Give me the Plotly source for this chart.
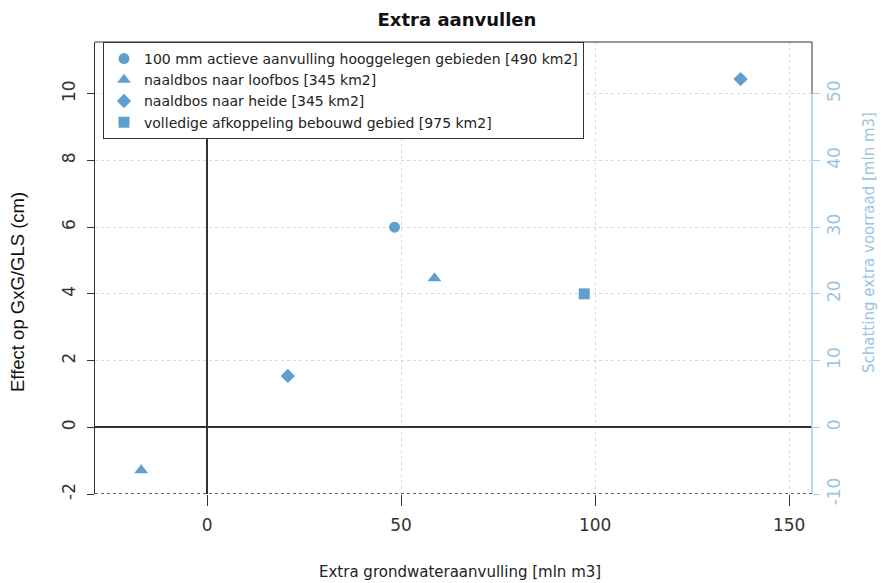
import plotly.graph_objects as go

# ---- data ----
series_names = [
    "100 mm actieve aanvulling hooggelegen gebieden [490 km2]",
    "naaldbos naar loofbos [345 km2]",
    "naaldbos naar heide [345 km2]",
    "volledige afkoppeling bebouwd gebied [975 km2]",
]
series_symbols = ["circle", "triangle-up", "diamond", "square"]
series_sizes = [11, 12, 11, 11]
x_values = [[48.3], [58.6, -17.0], [20.8, 137.5], [97.2]]
y_values = [[6.0], [4.47, -1.29], [1.54, 10.44], [4.0]]

x_ticks = [0, 50, 100, 150]
x_tick_labels = ["0", "50", "100", "150"]
y_ticks = [-2, 0, 2, 4, 6, 8, 10]
y_tick_labels = ["-2", "0", "2", "4", "6", "8", "10"]
y2_ticks = [-10, 0, 10, 20, 30, 40, 50]
y2_tick_labels = ["-10", "0", "10", "20", "30", "40", "50"]

title = "Extra aanvullen"
x_title = "Extra grondwateraanvulling [mln m3]"
y_title = "Effect op GxG/GLS (cm)"
y2_title = "Schatting extra voorraad [mln m3]"

MARKER = "#5f9fcf"
BLUE_AX = "#a9cde6"
BLUE_TXT = "#9cc4df"
DARK = "#333333"
FONT = "DejaVu Sans"

x_range = [-28.9, 155.9]
y_range = [-2.0, 11.55]
y2_range = [y_range[0] * 5, y_range[1] * 5]

fig = go.Figure()
for name, sym, sz, xs, ys in zip(series_names, series_symbols, series_sizes, x_values, y_values):
    fig.add_trace(go.Scatter(
        x=xs, y=ys, mode="markers", name=name,
        marker=dict(symbol=sym, size=sz, color=MARKER, line=dict(width=0)),
    ))

# invisible trace to activate the secondary axis
fig.add_trace(go.Scatter(x=[None], y=[None], yaxis="y2", showlegend=False,
                         hoverinfo="skip", mode="markers"))

fig.update_layout(
    width=883, height=583,
    margin=dict(l=95, r=71, t=42, b=89),
    paper_bgcolor="white", plot_bgcolor="white",
    font=dict(family=FONT, size=17, color=DARK),
    title=dict(text="<b>" + title + "</b>", x=457 / 883, xanchor="center",
               y=1 - 20 / 583, yanchor="middle",
               font=dict(family=FONT, size=18, color="#111111")),
    showlegend=True,
    legend=dict(x=(103 - 95) / 717, y=1.0, xanchor="left", yanchor="top",
                bordercolor=DARK, borderwidth=1, bgcolor="white",
                font=dict(family=FONT, size=14, color="#222222"),
                tracegroupgap=0, itemwidth=30),
    xaxis=dict(range=x_range, tickvals=x_ticks, ticktext=x_tick_labels,
               ticks="outside", ticklen=11, ticklabelstandoff=5,
               tickcolor=DARK, tickwidth=1, showline=False,
               showgrid=True, gridcolor="#d9d9d9", griddash="dot", gridwidth=1,
               zeroline=True, zerolinecolor=DARK, zerolinewidth=1.5,
               tickfont=dict(size=17, color=DARK)),
    yaxis=dict(range=y_range, tickvals=y_ticks, ticktext=y_tick_labels,
               ticks="outside", ticklen=7, ticklabelstandoff=5,
               tickcolor=DARK, tickangle=-90, showline=True, linecolor=DARK,
               linewidth=1.2, mirror=False,
               showgrid=True, gridcolor="#d9d9d9", griddash="dot", gridwidth=1,
               zeroline=True, zerolinecolor=DARK, zerolinewidth=1.5,
               tickfont=dict(size=17, color=DARK)),
    yaxis2=dict(range=y2_range, tickvals=y2_ticks, ticktext=y2_tick_labels,
                overlaying="y", side="right",
                ticks="outside", ticklen=7, tickcolor=BLUE_AX, tickangle=-90,
                showline=False, showgrid=False, zeroline=False,
                tickfont=dict(size=17, color=BLUE_TXT)),
)

shapes = [
    # top border
    dict(type="line", xref="paper", yref="paper", x0=0, x1=1, y0=1, y1=1,
         line=dict(color=DARK, width=1.2)),
    # right border above the secondary axis line
    dict(type="line", xref="paper", yref="y", x0=1, x1=1, y0=y_ticks[-1], y1=y_range[1],
         line=dict(color="#555555", width=1.2)),
    # secondary axis line
    dict(type="line", xref="paper", yref="y", x0=1, x1=1, y0=y_range[0], y1=y_ticks[-1],
         line=dict(color=BLUE_AX, width=1.5)),
    # dotted bottom line
    dict(type="line", xref="paper", yref="y", x0=0, x1=1, y0=y_range[0], y1=y_range[0],
         line=dict(color=DARK, width=1.3, dash="dot")),
]
fig.update_layout(shapes=shapes)

fig.add_annotation(text=x_title, xref="paper", yref="paper",
                   x=(459.5 - 95) / 717, y=(494 - 572) / 452,
                   xanchor="center", yanchor="middle", showarrow=False,
                   font=dict(family=FONT, size=15, color="#222222"))
fig.add_annotation(text=y_title, xref="paper", yref="paper",
                   x=(17 - 95) / 717, y=(494 - 292) / 452, textangle=-90,
                   xanchor="center", yanchor="middle", showarrow=False,
                   font=dict(family="Liberation Sans", size=18.5, color="#111111"))
fig.add_annotation(text=y2_title, xref="paper", yref="paper",
                   x=(869 - 95) / 717, y=(494 - 243) / 452, textangle=-90,
                   xanchor="center", yanchor="middle", showarrow=False,
                   font=dict(family=FONT, size=15, color=BLUE_TXT))

fig.write_html("out.html", config={"displayModeBar": False},
               post_script="document.body.style.margin='0';document.body.style.overflow='hidden';")
